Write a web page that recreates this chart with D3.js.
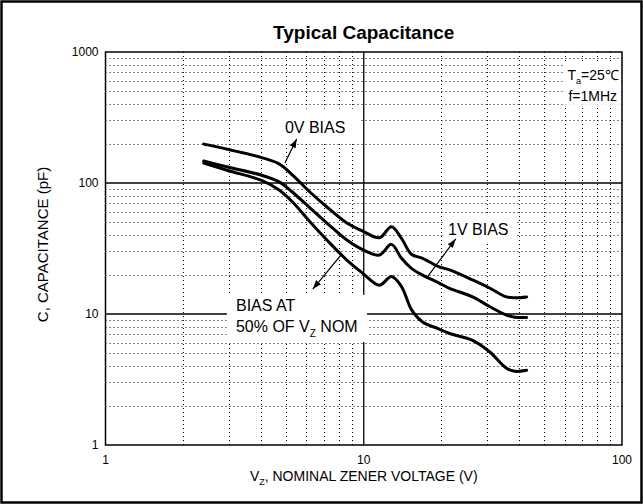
<!DOCTYPE html>
<html>
<head>
<meta charset="utf-8">
<script src="https://cdn.jsdelivr.net/npm/d3@7"></script>
<style>
	body { margin: 0; background: #fff; }
	svg { display: block; font-family: 'Liberation Sans', Arial, sans-serif; }
</style>
</head>
<body>
<svg id="chart" width="643" height="504"></svg>
<script>
// values (Vz in volts, C in pF)
const vz = [2.4, 3, 4, 4.7, 5.3, 6.2, 7.2, 8.6, 9.9, 11.5, 12.8, 14, 15.3, 16.9, 19.5, 21.5, 26.4, 30.7, 35.7, 38.5, 42.7]
const cap0V = [198, 180, 157, 140, 115, 85, 65.6, 49.5, 43, 38.2, 46.4, 37.8, 28.6, 26.6, 23, 21.7, 18.2, 15.8, 13.5, 13.3, 13.5]
const cap1V = [147, 132, 115, 102, 85, 64.4, 49.5, 36.7, 31, 28.2, 34, 26.6, 22.3, 19.8, 17.3, 15.7, 13.5, 11.4, 9.8, 9.45, 9.4]
const cap50 = [142, 124, 105, 88.5, 71.6, 50.4, 36.7, 25.8, 20.5, 16.6, 19.3, 16.2, 10.8, 8.7, 7.7, 7.1, 6.3, 5.15, 3.85, 3.65, 3.72]

const xTicks = [1, 10, 100]
const yTicks = [1, 10, 100, 1000]
const xDomain = [1, 100]
const yDomain = [1, 1000]

const plotLeft = 105.5,
	plotRight = 622,
	plotTop = 52,
	plotBottom = 445

const svg = d3.select('#chart')

const x = d3.scaleLog().domain(xDomain).range([plotLeft, plotRight])
const y = d3.scaleLog().domain(yDomain).range([plotBottom, plotTop])

// snap thin grid lines to the pixel grid so the dots stay crisp
const px = v => Math.round(v) + 0.5

// outer frame
svg.append('rect')
	.attr('x', 1.5).attr('y', 1.5)
	.attr('width', 640).attr('height', 501)
	.attr('fill', '#fff').attr('stroke', '#000').attr('stroke-width', 2.5)

// minor grid (dotted) and decade grid (solid)
const isDecade = v => Math.abs(Math.log10(v) - Math.round(Math.log10(v))) < 1e-6
const grid = svg.append('g')

grid.selectAll('.vminor')
	.data(x.ticks().filter(v => !isDecade(v)))
	.enter().append('line')
	.attr('x1', d => px(x(d))).attr('x2', d => px(x(d)))
	.attr('y1', plotTop).attr('y2', plotBottom)
	.attr('stroke', '#000').attr('stroke-width', 1).attr('stroke-dasharray', '1,3')

grid.selectAll('.hminor')
	.data(y.ticks().filter(v => !isDecade(v)))
	.enter().append('line')
	.attr('y1', d => px(y(d))).attr('y2', d => px(y(d)))
	.attr('x1', plotLeft).attr('x2', plotRight)
	.attr('stroke', '#000').attr('stroke-width', 1).attr('stroke-dasharray', '1,3')

grid.selectAll('.vmajor')
	.data(xTicks.slice(1, -1))
	.enter().append('line')
	.attr('x1', d => x(d)).attr('x2', d => x(d))
	.attr('y1', plotTop).attr('y2', plotBottom)
	.attr('stroke', '#000').attr('stroke-width', 1.3)

grid.selectAll('.hmajor')
	.data(yTicks.slice(1, -1))
	.enter().append('line')
	.attr('y1', d => y(d)).attr('y2', d => y(d))
	.attr('x1', plotLeft).attr('x2', plotRight)
	.attr('stroke', '#000').attr('stroke-width', 1.3)

// white patches behind the annotation text
const patches = [
	{ x0: 4.25, x1: 9.75, y0: 200, y1: 370 },
	{ x0: 20.3, x1: 38.5, y0: 35.5, y1: 57 },
	{ x0: 2.95, x1: 10.3, y0: 6.1, y1: 14 },
	{ x0: 59, x1: 98, y0: 395, y1: 820 }
]
svg.append('g').selectAll('rect')
	.data(patches)
	.enter().append('rect')
	.attr('x', d => x(d.x0))
	.attr('y', d => y(d.y1))
	.attr('width', d => x(d.x1) - x(d.x0))
	.attr('height', d => y(d.y0) - y(d.y1))
	.attr('fill', '#fff')

// plot border
svg.append('rect')
	.attr('x', plotLeft).attr('y', plotTop)
	.attr('width', plotRight - plotLeft).attr('height', plotBottom - plotTop)
	.attr('fill', 'none').attr('stroke', '#000').attr('stroke-width', 1.5)

// curves
const line = d3.line()
	.x(d => x(d[0]))
	.y(d => y(d[1]))
	.curve(d3.curveCatmullRom.alpha(0.5))

;[cap0V, cap1V, cap50].forEach(series => {
	svg.append('path')
		.datum(vz.map((v, i) => [v, series[i]]))
		.attr('d', line)
		.attr('fill', 'none')
		.attr('stroke', '#000')
		.attr('stroke-width', 3)
		.attr('stroke-linejoin', 'round')
		.attr('stroke-linecap', 'round')
})

// arrows (from curve towards the label)
svg.append('defs').append('marker')
	.attr('id', 'head')
	.attr('viewBox', '0 0 10 10')
	.attr('refX', 10).attr('refY', 5)
	.attr('markerWidth', 9).attr('markerHeight', 9)
	.attr('markerUnits', 'userSpaceOnUse')
	.attr('orient', 'auto')
	.append('path')
	.attr('d', 'M0,1.5L10,5L0,8.5Z')
	.attr('fill', '#000')

const arrows = [
	{ from: [4.95, 142], to: [5.5, 217] },
	{ from: [17.5, 18.8], to: [22.7, 37.4] },
	{ from: [8.22, 28.7], to: [6.35, 15.5] }
]
svg.append('g').selectAll('line')
	.data(arrows)
	.enter().append('line')
	.attr('x1', d => x(d.from[0])).attr('y1', d => y(d.from[1]))
	.attr('x2', d => x(d.to[0])).attr('y2', d => y(d.to[1]))
	.attr('stroke', '#000').attr('stroke-width', 1.2)
	.attr('marker-end', 'url(#head)')

// annotation text
const note = (v, c, size) =>
	svg.append('text')
		.attr('x', x(v)).attr('y', y(c))
		.attr('font-size', size)
		.attr('fill', '#000')

note(4.95, 241, 16).text('0V BIAS')
note(21.2, 40.1, 16).text('1V BIAS')
note(3.2, 10.5, 16).text('BIAS AT')
const t50 = note(3.2, 7.29, 16)
t50.append('tspan').text('50% OF V')
t50.append('tspan').attr('font-size', 10).attr('dy', 5).text('Z')
t50.append('tspan').attr('dy', -5).text(' NOM')

const ta = note(61.5, 611, 14)
ta.append('tspan').text('T')
ta.append('tspan').attr('font-size', 9).attr('dy', 4).text('a')
ta.append('tspan').attr('dy', -4).text('=25\u2103')
note(62, 423, 14).text('f=1MHz')

// title
svg.append('text')
	.attr('x', (plotLeft + plotRight) / 2).attr('y', 39)
	.attr('text-anchor', 'middle')
	.attr('font-size', 19).attr('font-weight', 'bold')
	.text('Typical Capacitance')

// tick labels
svg.append('g').selectAll('text')
	.data(xTicks)
	.enter().append('text')
	.attr('x', d => x(d)).attr('y', plotBottom + 19)
	.attr('text-anchor', 'middle')
	.attr('font-size', 12)
	.text(d => d)

svg.append('g').selectAll('text')
	.data(yTicks)
	.enter().append('text')
	.attr('x', plotLeft - 7).attr('y', d => y(d) + 4)
	.attr('text-anchor', 'end')
	.attr('font-size', 12)
	.text(d => d)

// axis titles
const xt = svg.append('text')
	.attr('x', (plotLeft + plotRight) / 2).attr('y', plotBottom + 36)
	.attr('text-anchor', 'middle')
	.attr('font-size', 14)
xt.append('tspan').text('V')
xt.append('tspan').attr('font-size', 9).attr('dy', 4).text('Z')
xt.append('tspan').attr('dy', -4).text(', NOMINAL ZENER VOLTAGE (V)')

svg.append('text')
	.attr('transform', `translate(48,${(plotTop + plotBottom) / 2 - 4}) rotate(-90)`)
	.attr('text-anchor', 'middle')
	.attr('font-size', 15)
	.text('C, CAPACITANCE (pF)')
</script>
</body>
</html>
